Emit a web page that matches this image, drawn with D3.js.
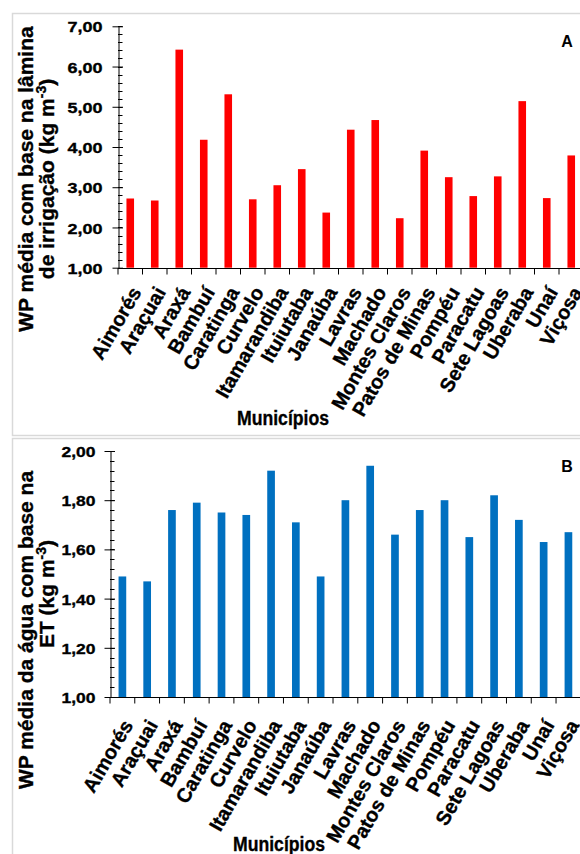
<!DOCTYPE html>
<html>
<head>
<meta charset="utf-8">
<script src="https://cdn.jsdelivr.net/npm/d3@7"></script>
<style>
  html, body { margin: 0; padding: 0; background: #fff; }
  svg { display: block; font-family: "Liberation Sans", Arial, sans-serif; }
  .heavy { stroke: #000; stroke-width: 0.35px; paint-order: fill; }
</style>
</head>
<body>
<svg id="chart" width="580" height="854"></svg>
<script>
// ---------- data ----------
const municipios = ["Aimorés", "Araçuai", "Araxá", "Bambuí", "Caratinga", "Curvelo",
  "Itamarandiba", "Ituiutaba", "Janaúba", "Lavras", "Machado", "Montes Claros",
  "Patos de Minas", "Pompéu", "Paracatu", "Sete Lagoas", "Uberaba", "Unaí", "Viçosa"];

const wpLamina = [2.72, 2.67, 6.42, 4.18, 5.31, 2.70, 3.05, 3.45, 2.37, 4.43,
  4.67, 2.23, 3.91, 3.25, 2.78, 3.27, 5.14, 2.73, 3.79];

const wpET = [1.49, 1.47, 1.76, 1.79, 1.75, 1.74, 1.92, 1.71, 1.49, 1.80,
  1.94, 1.66, 1.76, 1.80, 1.65, 1.82, 1.72, 1.63, 1.67];

const ticksA = [1, 2, 3, 4, 5, 6, 7];
const ticksB = [1.0, 1.2, 1.4, 1.6, 1.8, 2.0];

const xTitle = "Municípios";
const yTitleA = ["WP média com base na lâmina", "de irrigação (kg m"];
const yTitleB = ["WP média da água com base na", "ET (kg m"];

// ---------- drawing ----------
const svg = d3.select("#chart");
const fmt = v => v.toFixed(2).replace(".", ",");

function panel(cfg) {
  const g = svg.append("g");
  g.append("rect")
    .attr("x", cfg.frame[0]).attr("y", cfg.frame[1])
    .attr("width", cfg.frame[2]).attr("height", cfg.frame[3])
    .attr("fill", "#fff").attr("stroke", "#d9d9d9").attr("stroke-width", 1.5);

  const x = d3.scaleBand().domain(municipios)
    .range([cfg.x0, cfg.x0 + cfg.step * municipios.length])
    .paddingInner(0.69).paddingOuter(0.345);
  const y = d3.scaleLinear().domain(cfg.domain).range([cfg.yBottom, cfg.yTop]);

  // bars
  g.selectAll("rect.bar").data(cfg.values).enter().append("rect")
    .attr("class", "bar")
    .attr("x", (d, i) => x(municipios[i]))
    .attr("width", x.bandwidth())
    .attr("y", d => y(d))
    .attr("height", d => y(cfg.domain[0]) - y(d))
    .attr("fill", cfg.color);

  // minor y ticks
  const nMinor = Math.round((cfg.domain[1] - cfg.domain[0]) / cfg.minorStep);
  const minor = d3.range(0, nMinor + 1).map(k => cfg.domain[0] + k * cfg.minorStep);
  g.selectAll("line.minor").data(minor).enter().append("line")
    .attr("x1", cfg.x0).attr("x2", cfg.x0 + 4.5)
    .attr("y1", d => Math.round(y(d)) + 0.5).attr("y2", d => Math.round(y(d)) + 0.5)
    .attr("stroke", "#000").attr("stroke-width", 1);

  // y axis
  const yAxis = d3.axisLeft(y).tickValues(cfg.ticks).tickFormat(fmt)
    .tickSizeInner(6).tickSizeOuter(0).tickPadding(cfg.tickPad);
  const ya = g.append("g").attr("transform", `translate(${cfg.x0 + 0.5},0)`).call(yAxis);
  ya.select(".domain").attr("stroke", "#000");
  ya.selectAll(".tick line").attr("x2", -6).attr("x1", 4.5).attr("stroke", "#000");
  ya.selectAll(".tick text")
    .attr("class", "heavy")
    .attr("font-size", 15.5).attr("font-weight", "bold").attr("fill", "#000")
    .attr("font-family", "'Liberation Sans', Arial, sans-serif")
    .attr("dy", "0.36em")
    .attr("textLength", cfg.tickLblW).attr("lengthAdjust", "spacingAndGlyphs");

  // x axis line + boundary ticks
  const xEnd = cfg.x0 + cfg.step * municipios.length;
  g.append("line")
    .attr("x1", cfg.x0).attr("x2", xEnd)
    .attr("y1", Math.round(cfg.yBottom) + 0.5).attr("y2", Math.round(cfg.yBottom) + 0.5)
    .attr("stroke", "#000");
  const bounds = d3.range(0, municipios.length + 1).map(k => cfg.x0 + k * x.step());
  g.selectAll("line.xt").data(bounds).enter().append("line")
    .attr("x1", d => d).attr("x2", d => d)
    .attr("y1", Math.round(cfg.yBottom)).attr("y2", Math.round(cfg.yBottom) + 6.5)
    .attr("stroke", "#000");

  // x labels (rotated)
  g.selectAll("text.xl").data(municipios).enter().append("text")
    .attr("class", "heavy")
    .attr("transform", d => `translate(${x(d) + x.bandwidth() / 2 + cfg.lblDx},${cfg.yBottom + cfg.lblDy}) rotate(-60)`)
    .attr("text-anchor", "end")
    .attr("font-size", 20).attr("font-weight", "bold").attr("fill", "#000")
    .text(d => d);

  // x title
  g.append("text")
    .attr("class", "heavy")
    .attr("x", cfg.xTitlePos[0]).attr("y", cfg.xTitlePos[1])
    .attr("text-anchor", "middle")
    .attr("font-size", 20).attr("font-weight", "bold").attr("fill", "#000")
    .attr("textLength", 92).attr("lengthAdjust", "spacingAndGlyphs")
    .text(xTitle);

  // y title (two lines)
  cfg.yTitle.forEach((line, i) => {
    const t = g.append("text")
      .attr("class", "heavy")
      .attr("transform", `translate(${cfg.yTitlePos[i][0]},${cfg.yTitlePos[i][1]}) rotate(-90)`)
      .attr("text-anchor", "middle")
      .attr("font-size", 21).attr("font-weight", "bold").attr("fill", "#000")
      .text(line);
    if (i === 1) {
      t.append("tspan").attr("font-size", 14).attr("dy", -8).text("-3");
      t.append("tspan").attr("dy", 8).text(")");
    }
  });

  // panel letter
  g.append("text")
    .attr("x", cfg.letterPos[0]).attr("y", cfg.letterPos[1])
    .attr("text-anchor", "middle")
    .attr("font-size", 16).attr("font-weight", "bold").attr("fill", "#000")
    .text(cfg.letter);
}

panel({
  frame: [12.5, 13.5, 700, 422],
  x0: 118, step: 24.5,
  yTop: 26.3, yBottom: 267.7, domain: [1, 7], ticks: ticksA, minorStep: 0.2,
  tickPad: 10, tickLblW: 35,
  values: wpLamina, color: "#ff0000",
  lblDx: 11.75, lblDy: 24.3,
  xTitlePos: [283, 425],
  yTitle: yTitleA, yTitlePos: [[33, 179], [54, 179]],
  letter: "A", letterPos: [567, 46.5]
});

panel({
  frame: [12.5, 438.5, 700, 500],
  x0: 110, step: 24.78,
  yTop: 451, yBottom: 697, domain: [1, 2], ticks: ticksB, minorStep: 0.04,
  tickPad: 9, tickLblW: 34,
  values: wpET, color: "#0070c0",
  lblDx: 11.3, lblDy: 28,
  xTitlePos: [279, 851],
  yTitle: yTitleB, yTitlePos: [[33, 630], [54, 594]],
  letter: "B", letterPos: [567, 471.5]
});
</script>
</body>
</html>
